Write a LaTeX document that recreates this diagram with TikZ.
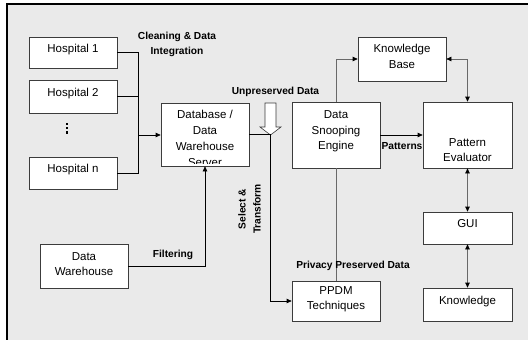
\documentclass[tikz,border=0pt]{standalone}
\usepackage{fontspec}
\setmainfont{Liberation Sans}
\usetikzlibrary{arrows.meta}
\definecolor{panel}{RGB}{234,234,234}
\definecolor{edge}{RGB}{60,60,60}
\definecolor{wire}{RGB}{105,105,105}

\begin{document}
\begin{tikzpicture}[x=1pt,y=-1pt,
  box/.style={draw=edge, fill=white, line width=0.7pt, inner sep=0pt},
  txt/.style={inner sep=0pt, align=center, font=\fontsize{11.5}{15.5}\selectfont},
  lbl/.style={inner sep=0pt, align=center, font=\bfseries\fontsize{10.2}{15}\selectfont},
  link/.style={line width=0.7pt},
  arrow/.style={link, -{Triangle[length=5pt,width=4.5pt,color=black]}},
  twoway/.style={link, draw=wire,
    {Triangle[length=5pt,width=4.5pt,color=black]}-{Triangle[length=5pt,width=4.5pt,color=black]}},
]
\useasboundingbox (0,0) rectangle (528,340);

% panel with its left and top rule
\fill[panel] (7,4) rectangle (528,340);
\draw[line width=1.2pt] (7,340) -- (7,4) -- (528,4);

% boxes
\node[box, minimum width=88, minimum height=31] (h1) at (73,52.5) {};
\node[box, minimum width=88, minimum height=33] (h2) at (73,96.5) {};
\node[box, minimum width=88, minimum height=32] (hn) at (73,173) {};
\node[box, minimum width=88, minimum height=44] (dw) at (84,266) {};
\node[box, minimum width=88, minimum height=63] (db) at (205,134.5) {};
\node[box, minimum width=88, minimum height=66] (dse) at (336,135) {};
\node[box, minimum width=88, minimum height=44] (kb) at (402,59) {};
\node[box, minimum width=89, minimum height=66] (pe) at (467.5,135) {};
\node[box, minimum width=89, minimum height=32] (gui) at (467.5,228) {};
\node[box, minimum width=89, minimum height=33] (kn) at (467.5,304.5) {};
\node[box, minimum width=88, minimum height=40] (ppdm) at (336,301) {};

% box texts
\node[txt] (h1t) at ([yshift=3pt]h1.center) {Hospital 1};
\node[txt] (h2t) at ([yshift=3pt]h2.center) {Hospital 2};
\node[txt] (hnt) at ([yshift=3pt]hn.center) {Hospital n};
\node[txt] (dwt) at ([yshift=2pt]dw.center) {Data\\Warehouse};
\begin{scope}
  % the last line of the server text runs past the box and is cut off
  \clip ([yshift=2.5pt]db.south west) rectangle (db.north east);
  \node[txt, font=\fontsize{11.5}{16}\selectfont] (dbt) at ([yshift=-4pt]db.center)
    {Database /\\Data\\Warehouse\\Server};
\end{scope}
\node[txt] (dset) at ([yshift=3.5pt]dse.center) {Data\\Snooping\\Engine};
\node[txt] (kbt) at ([yshift=2.5pt]kb.center) {Knowledge\\Base};
\node[txt] (pet) at ([yshift=-15pt]pe.center) {Pattern\\Evaluator};
\node[txt] (guit) at ([yshift=4pt]gui.center) {GUI};
\node[txt] (knt) at ([yshift=3pt]kn.center) {Knowledge};
\node[txt] (ppdmt) at ([yshift=2pt]ppdm.center) {PPDM\\Techniques};

% vertical ellipsis between the hospitals
\fill (65.7,122.6) rectangle +(2.6,2.6);
\fill (65.7,126.8) rectangle +(2.6,2.6);
\fill (65.7,131.0) rectangle +(2.6,2.6);

% hollow arrow for the unpreserved data
\filldraw[fill=white, draw=edge, line width=0.6pt]
  (265,103) -- (276,103) -- (276,127) -- (281,127) -- (270.5,135)
  -- (260,127) -- (265,127) -- cycle;

% connectors
\coordinate (bus) at (138,135);
\coordinate (tap) at (270.5,134.5);
\draw[link] (h1.east) -| (bus |- hn.east) -- (hn.east);
\draw[link] (h2.east) -- (h2.east -| bus);
\draw[arrow] (bus) -- (bus -| db.west);
\draw[arrow] (dw.east) -| (db.south);
\draw[link] (db.east) -- (tap);
\draw[arrow] (tap) |- (ppdm.west);
\draw[link, draw=wire] (dse.south) -- (ppdm.north);
\draw[arrow, draw=wire] (dse.north) |- (kb.west);
\draw[twoway] (kb.east) -| (pe.north);
\draw[arrow] (dse.east) -- (pe.west);
\draw[twoway] (pe.south) -- (gui.north);
\draw[twoway] (gui.south) -- (kn.north);

% connector labels
\node[lbl] (clean) at (177,44) {Cleaning \& Data\\Integration};
\node[lbl] (unp) at (275.5,92) {Unpreserved Data};
\node[lbl] (pat) at (402,146) {Patterns};
\node[lbl] (filt) at (173,255) {Filtering};
\node[lbl, rotate=90] (sel) at (249.5,209) {Select \&\\Transform};
\node[lbl] (priv) at (353,266) {Privacy Preserved Data};
\end{tikzpicture}
\end{document}
